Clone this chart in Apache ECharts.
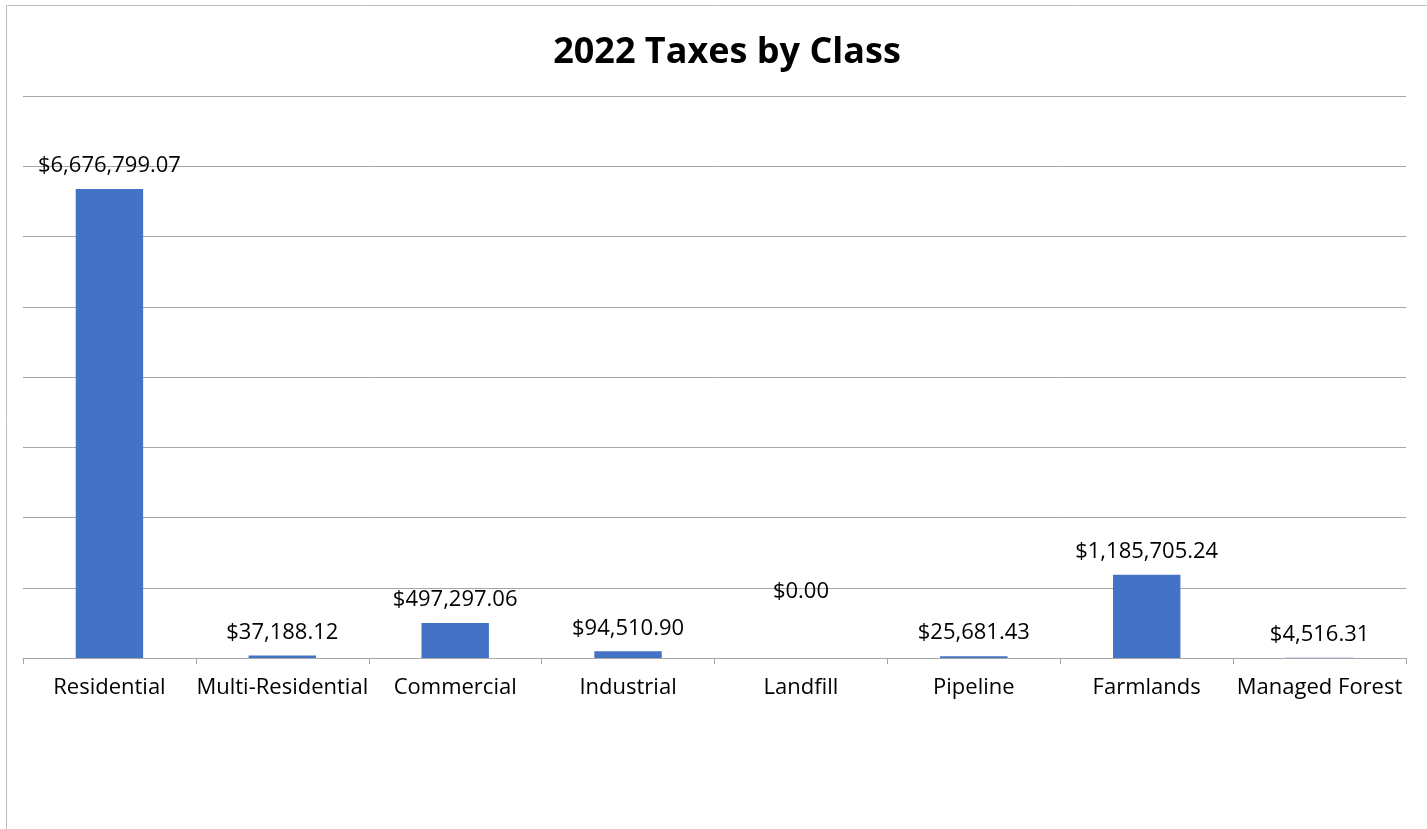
<!DOCTYPE html>
<html><head><meta charset="utf-8">
<script src="https://cdn.jsdelivr.net/npm/echarts@6/dist/echarts.min.js"></script>
<style>html,body{margin:0;padding:0;background:#fff}#c{width:1427px;height:829px}</style>
</head><body><div id="c"></div>
<script>
const title = '2022 Taxes by Class';
const categories = ['Residential','Multi-Residential','Commercial','Industrial','Landfill','Pipeline','Farmlands','Managed Forest'];
const values = [6676799.07, 37188.12, 497297.06, 94510.90, 0, 25681.43, 1185705.24, 4516.31];
const yMin = 0, yMax = 8000000, yInterval = 1000000;

function fmt(v){
  return '$' + v.toLocaleString('en-US',{minimumFractionDigits:2,maximumFractionDigits:2});
}
const font = '"Open Sans", sans-serif';
const chart = echarts.init(document.getElementById('c'));
chart.setOption({
  animation:false,
  backgroundColor:'#fff',
  title:{text:title,left:722,top:30,textAlign:'center',
    textStyle:{fontFamily:font,fontWeight:'bold',fontSize:36,color:'#000'}},
  graphic:[{type:'rect',shape:{x:6.5,y:5.5,width:1440,height:840},
    style:{fill:'none',stroke:'#bfbfbf',lineWidth:1},silent:true}],
  grid:{left:23,right:21,top:96,bottom:171},
  xAxis:{type:'category',data:categories,
    axisLine:{lineStyle:{color:'#a6a6a6'}},
    axisTick:{show:true,length:6,lineStyle:{color:'#a6a6a6'}},
    axisLabel:{fontFamily:font,fontSize:22,color:'#000',margin:19,interval:0}},
  yAxis:{type:'value',min:yMin,max:yMax,interval:yInterval,
    axisLabel:{show:false},axisLine:{show:false},axisTick:{show:false},
    splitLine:{lineStyle:{color:'#a6a6a6'}}},
  series:[{type:'bar',barWidth:'39%',itemStyle:{color:'#4472C4'},
    data: values.map((v,i)=> v===0 ? {value:v,label:{offset:[0,-43]}} : v),
    label:{show:true,position:'top',distance:12,fontFamily:font,fontSize:22,color:'#000',
      formatter:p=>fmt(p.value)}}]
});
</script></body></html>
